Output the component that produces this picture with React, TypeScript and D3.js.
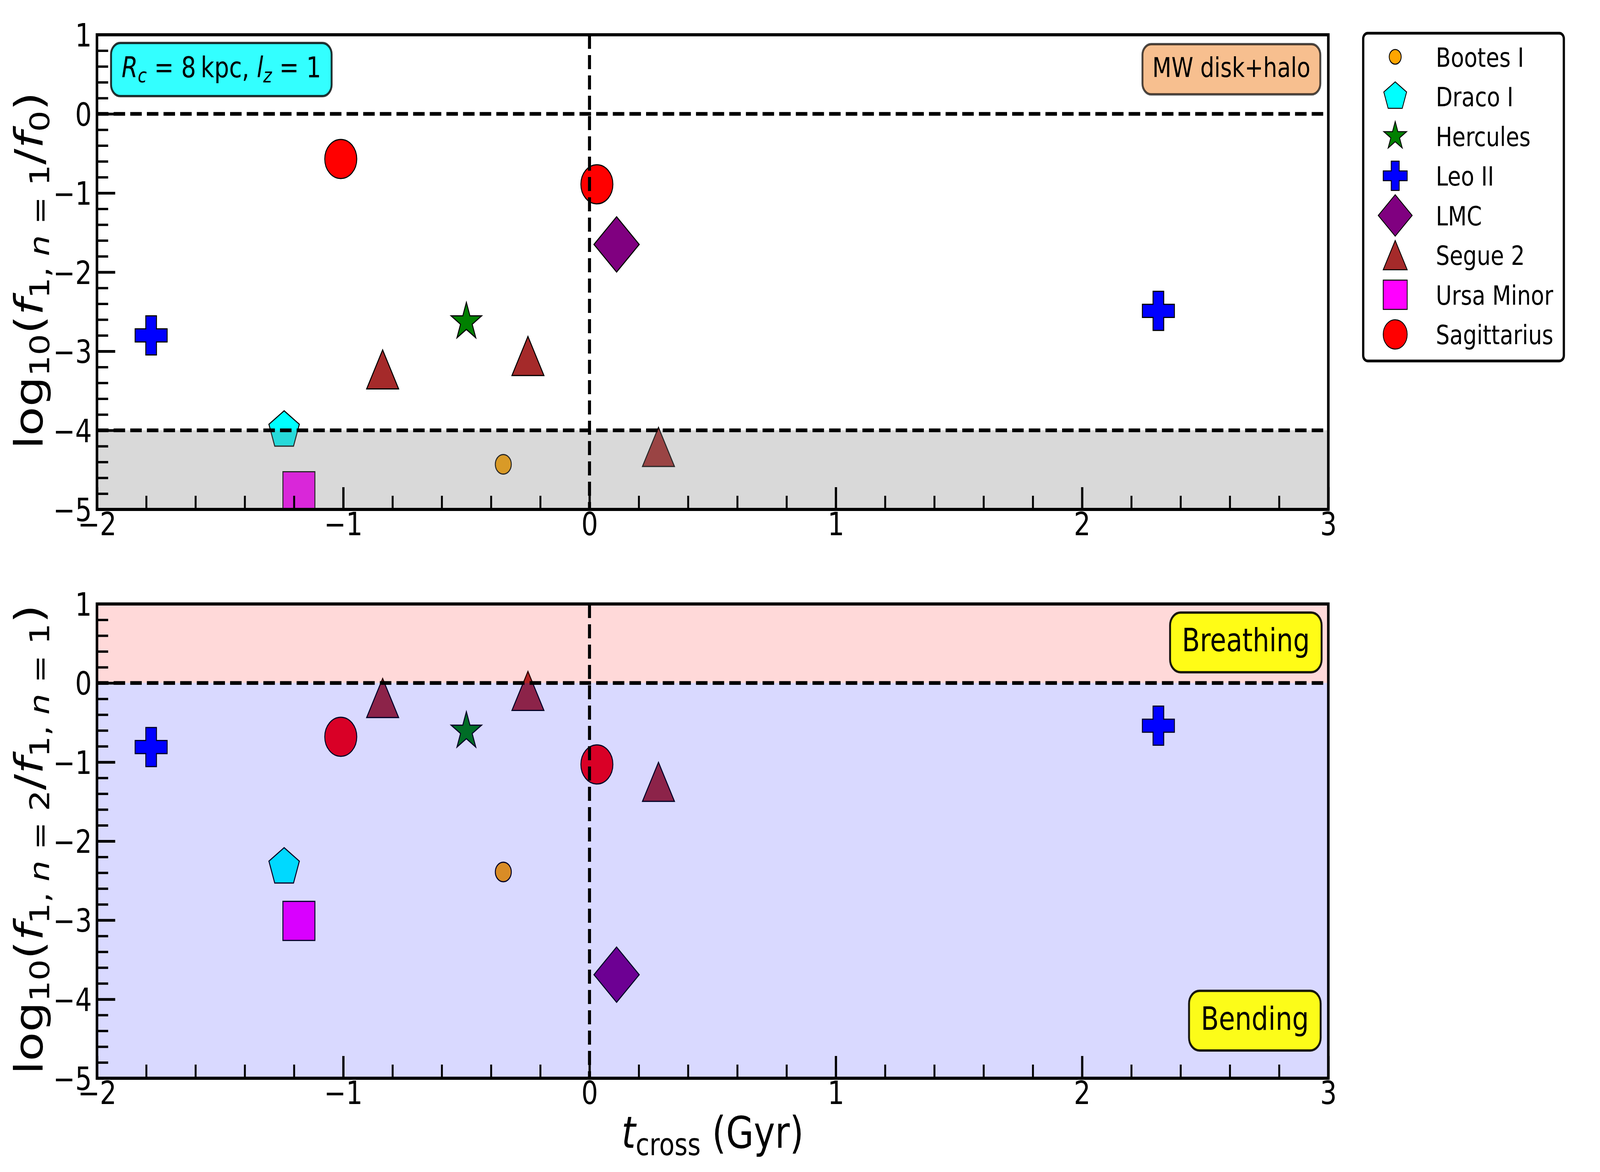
import React, { useEffect, useRef } from "react";
import * as d3 from "d3";

// galaxies in legend order
const galaxyNames = ["Bootes I", "Draco I", "Hercules", "Leo II", "LMC", "Segue 2", "Ursa Minor", "Sagittarius"];

// one entry per plotted point
const pointGalaxy = [
  "Sagittarius", "Sagittarius", "LMC", "Leo II", "Leo II", "Hercules",
  "Segue 2", "Segue 2", "Segue 2", "Draco I", "Bootes I", "Ursa Minor",
];
const tCross = [-1.01, 0.03, 0.11, -1.78, 2.31, -0.5, -0.84, -0.25, 0.28, -1.24, -0.35, -1.18];
const logF1 = [-0.57, -0.89, -1.65, -2.8, -2.49, -2.63, -3.23, -3.06, -4.21, -4.0, -4.43, -4.77];
const logRatio = [-0.68, -1.03, -3.69, -0.81, -0.54, -0.61, -0.19, -0.1, -1.25, -2.33, -2.39, -3.01];

const xTicks = [-2, -1, 0, 1, 2, 3];
const yTicks = [-5, -4, -3, -2, -1, 0, 1];
const weakBand = [-5, -4];
const breathingBand = [0, 1];
const bendingBand = [-5, 0];
const topRefLines = [0, -4];
const bottomRefLines = [0];

const markerStyle: Record<string, { color: string; shape: string; size: number }> = {
  "Bootes I": { color: "orange", shape: "o", size: 50 },
  "Draco I": { color: "cyan", shape: "p", size: 100 },
  Hercules: { color: "green", shape: "*", size: 100 },
  "Leo II": { color: "blue", shape: "P", size: 100 },
  LMC: { color: "purple", shape: "D", size: 100 },
  "Segue 2": { color: "brown", shape: "^", size: 100 },
  "Ursa Minor": { color: "magenta", shape: "s", size: 100 },
  Sagittarius: { color: "red", shape: "o", size: 100 },
};

// matplotlib-like marker shapes, size = marker size in px
const polygon = (ctx: any, pts: [number, number][]) => {
  pts.forEach(([px, py], i) => (i ? ctx.lineTo(px, py) : ctx.moveTo(px, py)));
  ctx.closePath();
};
const mplSymbols: Record<string, d3.SymbolType> = {
  o: { draw(ctx: any, s: number) { const r = s / 2; ctx.moveTo(r, 0); ctx.arc(0, 0, r, 0, 2 * Math.PI); } },
  s: { draw(ctx: any, s: number) { ctx.rect(-s / 2, -s / 2, s, s); } },
  D: { draw(ctx: any, s: number) { const h = s * Math.SQRT1_2; polygon(ctx, [[0, -h], [h, 0], [0, h], [-h, 0]]); } },
  "^": { draw(ctx: any, s: number) { const h = s / 2; polygon(ctx, [[0, -h], [h, h], [-h, h]]); } },
  p: {
    draw(ctx: any, s: number) {
      const r = s / 2;
      polygon(ctx, d3.range(5).map((i) => {
        const a = -Math.PI / 2 + (i * 2 * Math.PI) / 5;
        return [r * Math.cos(a), r * Math.sin(a)] as [number, number];
      }));
    },
  },
  "*": {
    draw(ctx: any, s: number) {
      const r = s / 2;
      polygon(ctx, d3.range(10).map((i) => {
        const a = -Math.PI / 2 + (i * Math.PI) / 5;
        const rr = i % 2 ? r * 0.381966 : r;
        return [rr * Math.cos(a), rr * Math.sin(a)] as [number, number];
      }));
    },
  },
  P: {
    draw(ctx: any, s: number) {
      const a = s / 6, b = s / 2;
      polygon(ctx, [[-a, -b], [a, -b], [a, -a], [b, -a], [b, a], [a, a], [a, b], [-a, b], [-a, a], [-b, a], [-b, -a], [-a, -a]]);
    },
  },
};

type Seg = { t: string; it?: boolean; sub?: boolean };

function mathText(sel: any, segs: Seg[], size: number) {
  const shift = 0.17 * size;
  let down = false;
  segs.forEach((s) => {
    const ts = sel.append("tspan").text(s.t);
    if (s.it) ts.attr("font-style", "italic");
    if (s.sub) {
      ts.attr("font-size", size * 0.7);
      if (!down) { ts.attr("dy", shift); down = true; }
    } else if (down) {
      ts.attr("dy", -shift);
      down = false;
    }
  });
}

const FONT = "DejaVu Sans, sans-serif";
const W = 5000, H = 3000;
const left = 303, right = 4151;
const panels = [{ top: 89, bottom: 1304 }, { top: 1546, bottom: 2760 }];

export default function App() {
  const ref = useRef<SVGSVGElement | null>(null);

  useEffect(() => {
    const svg = d3.select(ref.current);
    svg.selectAll("*").remove();
    svg.attr("font-family", FONT);

    const x = d3.scaleLinear().domain([-2, 3]).range([left, right]);
    const minor = (lo: number, hi: number) =>
      d3.range(lo * 5, hi * 5 + 1).filter((i) => i % 5 !== 0).map((i) => i / 5);

    // rounded text box; alpha applies to the box only, the text stays black
    const textBox = (
      g: any, segs: Seg[], font: number, fill: string, alpha: number, edge: number,
      ax: number, ay: number, hAlign: "left" | "right", vAlign: "top" | "bottom"
    ) => {
      const box = g.append("g");
      const rect = box.append("rect");
      const txt = box.append("text").attr("font-size", font).attr("text-anchor", "middle").style("white-space", "pre");
      mathText(txt, segs, font);
      const len = (txt.node() as SVGTextElement).getComputedTextLength();
      const w = len + 0.9 * font, h = 1.164 * font + 0.7 * font;
      const bx = hAlign === "left" ? ax : ax - w;
      const by = vAlign === "top" ? ay : ay - h;
      rect.attr("x", bx).attr("y", by).attr("width", w).attr("height", h)
        .attr("rx", 0.4 * font).attr("fill", fill).attr("fill-opacity", alpha)
        .attr("stroke", "black").attr("stroke-opacity", alpha).attr("stroke-width", edge);
      txt.attr("x", bx + w / 2).attr("y", by + h / 2 + 0.28 * font);
    };

    const drawPanel = (idx: number, values: number[], label: Seg[]) => {
      const { top, bottom } = panels[idx];
      const y = d3.scaleLinear().domain([-5, 1]).range([bottom, top]);
      const g = svg.append("g");
      const clipId = `clip-${idx}`;
      g.append("clipPath").attr("id", clipId).append("rect")
        .attr("x", left).attr("y", top).attr("width", right - left).attr("height", bottom - top);

      const plot = g.append("g").attr("clip-path", `url(#${clipId})`);
      plot.selectAll("path.pt")
        .data(pointGalaxy.map((name, i) => ({ name, t: tCross[i], v: values[i] })))
        .join("path")
        .attr("class", "pt")
        .attr("transform", (d) => `translate(${x(d.t)},${y(d.v)})`)
        .attr("d", (d) => d3.symbol().type(mplSymbols[markerStyle[d.name].shape]).size(markerStyle[d.name].size)()!)
        .attr("fill", (d) => markerStyle[d.name].color)
        .attr("stroke", "black")
        .attr("stroke-width", 3);

      const band = (range: number[], color: string, alpha: number) =>
        plot.append("rect")
          .attr("x", left).attr("width", right - left)
          .attr("y", y(range[1])).attr("height", y(range[0]) - y(range[1]))
          .attr("fill", color).attr("opacity", alpha);

      if (idx === 0) {
        band(weakBand, "gray", 0.3);
      } else {
        band(breathingBand, "red", 0.15);
        band(bendingBand, "blue", 0.15);
      }

      const dash = "36 16";
      plot.selectAll("line.href")
        .data(idx === 0 ? topRefLines : bottomRefLines)
        .join("line")
        .attr("x1", left).attr("x2", right)
        .attr("y1", (d) => y(d)).attr("y2", (d) => y(d))
        .attr("stroke", "black").attr("stroke-width", 9.5).attr("stroke-dasharray", dash);
      plot.append("line")
        .attr("x1", x(0)).attr("x2", x(0)).attr("y1", top).attr("y2", bottom)
        .attr("stroke", "black").attr("stroke-width", 9.5).attr("stroke-dasharray", dash);

      // axes with inward ticks
      const styleAxis = (a: any, w: number) => {
        a.select(".domain").remove();
        a.selectAll("line").attr("stroke", "black").attr("stroke-width", w);
        a.selectAll("text").attr("font-size", 82).attr("font-family", FONT).attr("fill", "black");
        a.attr("font-family", null).attr("font-size", null);
      };
      const fmt = d3.format("d");
      const yMinor = g.append("g").attr("transform", `translate(${left},0)`)
        .call(d3.axisLeft(y).tickValues(minor(-5, 1)).tickSize(-35).tickFormat(() => ""));
      styleAxis(yMinor, 6);
      const yMajor = g.append("g").attr("transform", `translate(${left},0)`)
        .call(d3.axisLeft(y).tickValues(yTicks).tickSize(-57).tickPadding(16).tickFormat((d) => fmt(d as number)));
      styleAxis(yMajor, 7);
      yMajor.selectAll("text").attr("dy", "0.36em");

      const xMinor = g.append("g").attr("transform", `translate(0,${bottom})`)
        .call(d3.axisBottom(x).tickValues(minor(-2, 3)).tickSize(-35).tickFormat(() => ""));
      styleAxis(xMinor, 6);
      const xMajor = g.append("g").attr("transform", `translate(0,${bottom})`)
        .call(d3.axisBottom(x).tickValues(xTicks).tickSize(-57).tickPadding(8).tickFormat((d) => fmt(d as number)));
      styleAxis(xMajor, 7);

      g.append("rect")
        .attr("x", left).attr("y", top).attr("width", right - left).attr("height", bottom - top)
        .attr("fill", "none").attr("stroke", "black").attr("stroke-width", 8);

      const yl = g.append("text")
        .attr("transform", `translate(133,${(top + bottom) / 2 - 4}) rotate(-90)`)
        .attr("text-anchor", "middle").attr("font-size", 122).style("white-space", "pre");
      mathText(yl, label, 122);

      if (idx === 0) {
        textBox(g, [{ t: "R", it: true }, { t: "c", it: true, sub: true }, { t: " = 8\u2009kpc, " },
          { t: "l", it: true }, { t: "z", it: true, sub: true }, { t: " = 1" }],
          73, "cyan", 0.8, 6, left + 44, top + 21, "left", "top");
        textBox(g, [{ t: "MW disk+halo" }], 69, "sandybrown", 0.7, 6, right - 25, top + 24, "right", "top");
      } else {
        textBox(g, [{ t: "Breathing" }], 82, "yellow", 0.9, 6, right - 21, top + 22, "right", "top");
        textBox(g, [{ t: "Bending" }], 82, "yellow", 0.9, 6, right - 24, bottom - 71, "right", "bottom");
      }
    };

    drawPanel(0, logF1, [
      { t: "log" }, { t: "10", sub: true }, { t: "(" }, { t: "f", it: true },
      { t: "1, ", sub: true }, { t: "n", it: true, sub: true }, { t: " = 1", sub: true },
      { t: "/" }, { t: "f", it: true }, { t: "0", sub: true }, { t: ")" },
    ]);
    drawPanel(1, logRatio, [
      { t: "log" }, { t: "10", sub: true }, { t: "(" }, { t: "f", it: true },
      { t: "1, ", sub: true }, { t: "n", it: true, sub: true }, { t: " = 2", sub: true },
      { t: "/" }, { t: "f", it: true },
      { t: "1, ", sub: true }, { t: "n", it: true, sub: true }, { t: " = 1", sub: true }, { t: ")" },
    ]);

    // x label
    const xl = svg.append("text")
      .attr("x", (left + right) / 2).attr("y", 2938)
      .attr("text-anchor", "middle").attr("font-size", 112).style("white-space", "pre");
    mathText(xl, [{ t: "t", it: true }, { t: "cross", sub: true }, { t: " (Gyr)" }], 112);

    // legend
    const lg = svg.append("g");
    lg.append("rect")
      .attr("x", 4260).attr("y", 85).attr("width", 627).attr("height", 839).attr("rx", 14)
      .attr("fill", "white").attr("stroke", "black").attr("stroke-width", 7);
    const rows = lg.selectAll("g.row").data(galaxyNames).join("g")
      .attr("class", "row")
      .attr("transform", (_, i) => `translate(0,${145.5 + i * 101.5})`);
    rows.append("path")
      .attr("transform", "translate(4360,0)")
      .attr("d", (d) => d3.symbol().type(mplSymbols[markerStyle[d].shape]).size(markerStyle[d].size * 0.75)()!)
      .attr("fill", (d) => markerStyle[d].color)
      .attr("stroke", "black").attr("stroke-width", 2.5);
    rows.append("text")
      .attr("x", 4487).attr("y", 25)
      .attr("font-size", 68)
      .text((d) => d);
  }, []);

  // the window is narrower than 5000px, so stretch the 5000x3000 drawing over the full viewport
  return (
    <svg
      ref={ref}
      viewBox={`0 0 ${W} ${H}`}
      preserveAspectRatio="none"
      width="100vw"
      height="100vh"
      style={{ position: "absolute", left: 0, top: 0, display: "block", background: "white" }}
    />
  );
}
